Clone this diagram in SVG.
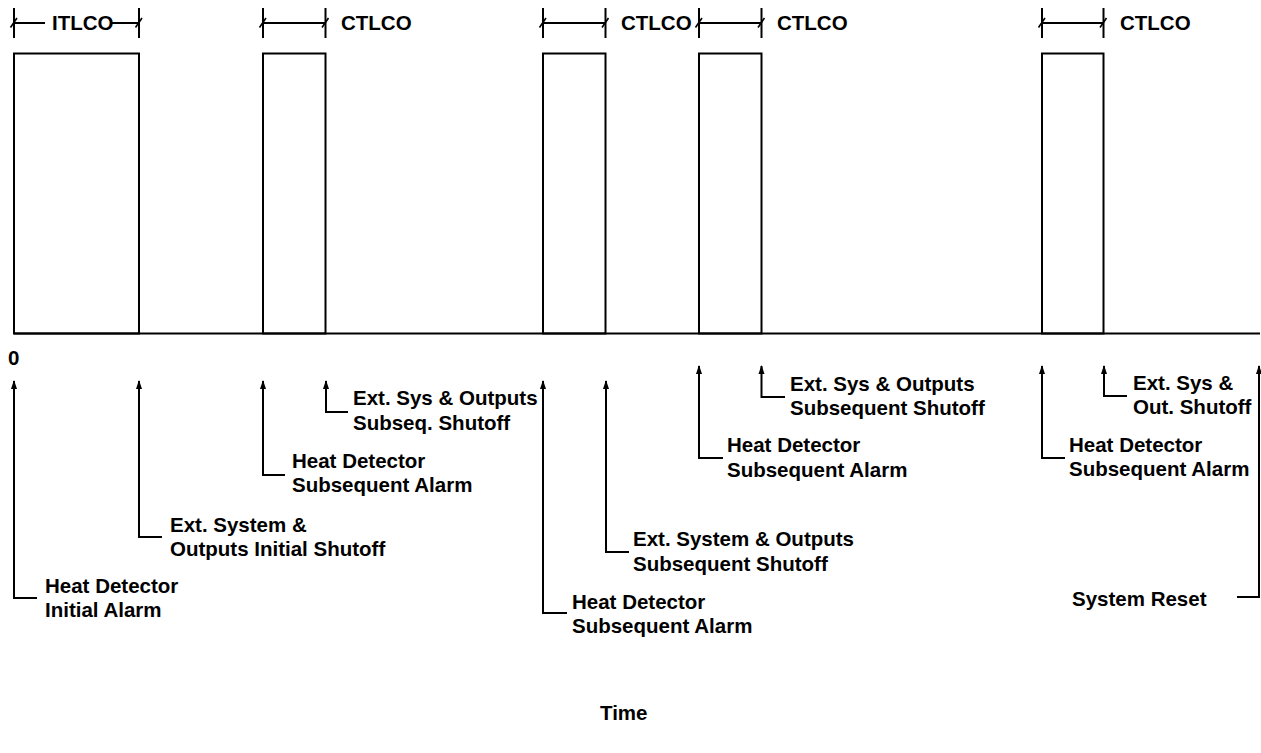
<svg xmlns="http://www.w3.org/2000/svg" width="1261" height="753" viewBox="0 0 1261 753">
<style>
.ln{fill:none;stroke:#000;stroke-width:2}
.ar{fill:none;stroke:#000;stroke-width:2;marker-end:url(#ah)}
.t{font-family:"Liberation Sans",Arial,sans-serif;font-weight:bold;font-size:20.5px;fill:#000}
.tk{stroke:#000;stroke-width:1.6;fill:none}
</style>
<defs>
<marker id="ah" markerUnits="userSpaceOnUse" markerWidth="9" markerHeight="7" refX="8" refY="3.5" orient="auto">
<path d="M0,0.5 L9,3.5 L0,6.5 z" fill="#000"/>
</marker>
</defs>
<rect width="1261" height="753" fill="#fff"/>
<g id="waveform">
<path class="ln" d="M14,333.5 H1260"/>
<rect class="ln" x="14" y="53.5" width="125" height="280"/>
<rect class="ln" x="263" y="53.5" width="62.5" height="280"/>
<rect class="ln" x="543" y="53.5" width="62.5" height="280"/>
<rect class="ln" x="699" y="53.5" width="62.5" height="280"/>
<rect class="ln" x="1042" y="53.5" width="61.5" height="280"/>
</g>
<g id="dim-itlco">
<path class="ln" d="M14,8 V38 M139,8 V38 M14,23 H45 M111,23 H139"/>
<path class="tk" d="M10.5,27.5 L17,18 M135.5,27.5 L142,18"/>
<text class="t" x="52" y="30">ITLCO</text>
</g>
<g id="dim-ctlco-1">
<path class="ln" d="M263,8 V38 M325.5,8 V38 M263,23 H325.5"/>
<path class="tk" d="M259.5,27.5 L266,18 M322,27.5 L328.5,18"/>
<text class="t" x="341" y="30">CTLCO</text>
</g>
<g id="dim-ctlco-2">
<path class="ln" d="M543,8 V38 M605.5,8 V38 M543,23 H605.5"/>
<path class="tk" d="M539.5,27.5 L546,18 M602,27.5 L608.5,18"/>
<text class="t" x="621" y="30">CTLCO</text>
</g>
<g id="dim-ctlco-3">
<path class="ln" d="M699,8 V38 M761.5,8 V38 M699,23 H761.5"/>
<path class="tk" d="M695.5,27.5 L702,18 M758,27.5 L764.5,18"/>
<text class="t" x="777" y="30">CTLCO</text>
</g>
<g id="dim-ctlco-4">
<path class="ln" d="M1042,8 V38 M1103.5,8 V38 M1042,23 H1103.5"/>
<path class="tk" d="M1038.5,27.5 L1045,18 M1100,27.5 L1106.5,18"/>
<text class="t" x="1120" y="30">CTLCO</text>
</g>
<g id="origin"><text class="t" x="8" y="365">0</text></g>
<g id="connectors">
<path class="ar" d="M37,598 H14 V381"/>
<path class="ar" d="M162,537 H139 V381"/>
<path class="ar" d="M285,475 H263 V381"/>
<path class="ar" d="M348,412 H326 V381"/>
<path class="ar" d="M567,613 H543 V381"/>
<path class="ar" d="M629,552 H606 V381"/>
<path class="ar" d="M723,458 H699 V366"/>
<path class="ar" d="M785,397 H761.5 V366"/>
<path class="ar" d="M1065,458 H1042 V366"/>
<path class="ar" d="M1127,396 H1104 V366"/>
<path class="ar" d="M1237,597 H1259 V366"/>
</g>
<g id="lbl-hd-initial"><text class="t" x="45" y="593">Heat Detector</text><text class="t" x="45" y="617">Initial Alarm</text></g>
<g id="lbl-ext-initial"><text class="t" x="170" y="532">Ext. System &amp;</text><text class="t" x="170" y="556">Outputs Initial Shutoff</text></g>
<g id="lbl-hd-sub-1"><text class="t" x="292" y="468">Heat Detector</text><text class="t" x="292" y="492">Subsequent Alarm</text></g>
<g id="lbl-ext-sub-1"><text class="t" x="353" y="405">Ext. Sys &amp; Outputs</text><text class="t" x="353" y="430">Subseq. Shutoff</text></g>
<g id="lbl-hd-sub-2"><text class="t" x="572" y="609">Heat Detector</text><text class="t" x="572" y="633">Subsequent Alarm</text></g>
<g id="lbl-ext-sub-2"><text class="t" x="633" y="546">Ext. System &amp; Outputs</text><text class="t" x="633" y="571">Subsequent Shutoff</text></g>
<g id="lbl-hd-sub-3"><text class="t" x="727" y="452">Heat Detector</text><text class="t" x="727" y="477">Subsequent Alarm</text></g>
<g id="lbl-ext-sub-3"><text class="t" x="790" y="391">Ext. Sys &amp; Outputs</text><text class="t" x="790" y="415">Subsequent Shutoff</text></g>
<g id="lbl-hd-sub-4"><text class="t" x="1069" y="452">Heat Detector</text><text class="t" x="1069" y="476">Subsequent Alarm</text></g>
<g id="lbl-ext-sub-4"><text class="t" x="1133" y="390">Ext. Sys &amp;</text><text class="t" x="1133" y="414">Out. Shutoff</text></g>
<g id="lbl-reset"><text class="t" x="1072" y="606">System Reset</text></g>
<g id="axis-label"><text class="t" x="600" y="720">Time</text></g>
</svg>
